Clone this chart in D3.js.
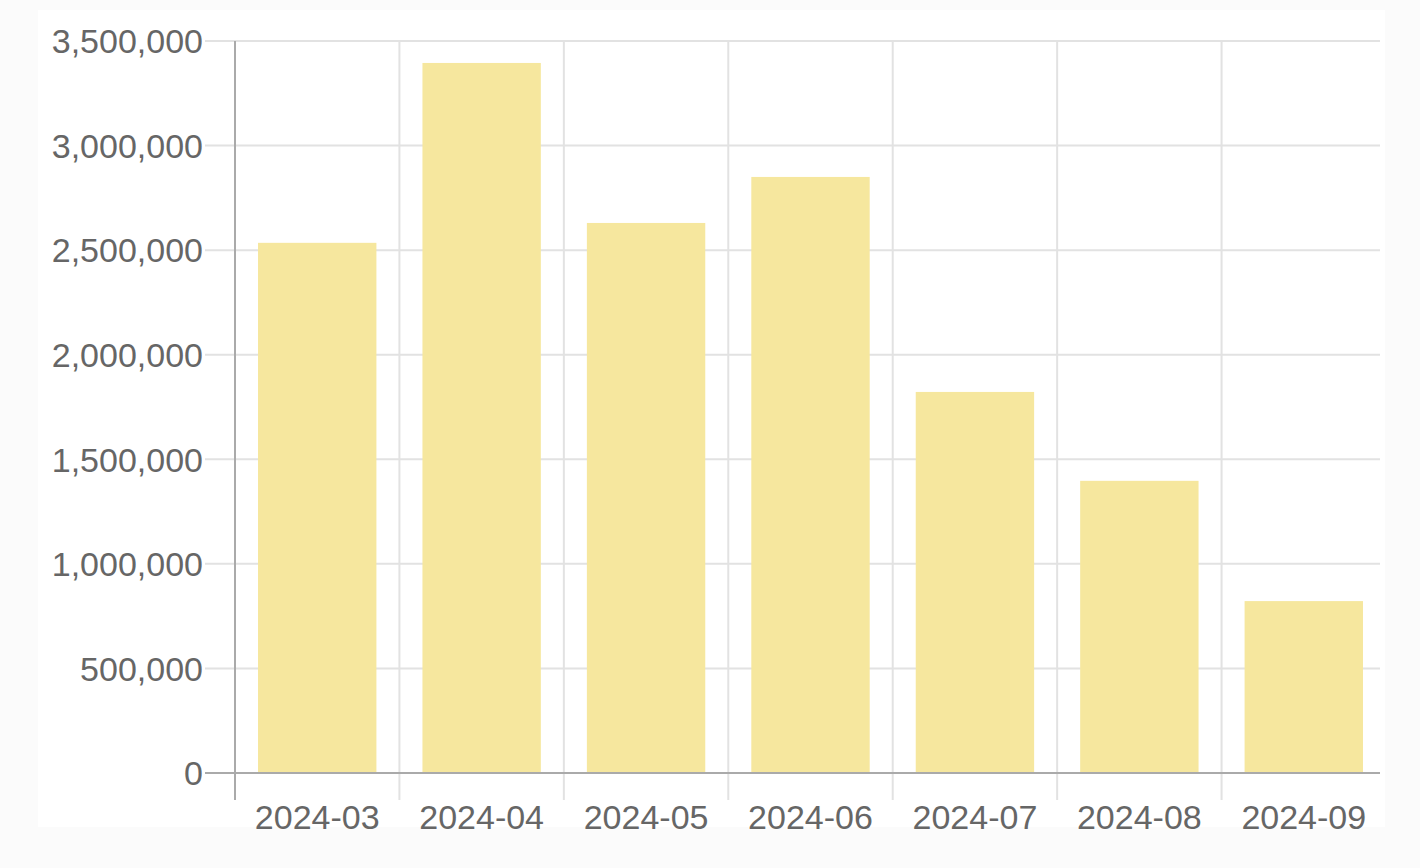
<!DOCTYPE html>
<html><head><meta charset="utf-8">
<script src="https://cdn.jsdelivr.net/npm/d3@7"></script>
<style>html,body{margin:0;padding:0;background:#fbfbfb;}svg{display:block;}</style>
</head><body>
<svg id="chart" width="1420" height="868"></svg>
<script>
const categories = ["2024-03","2024-04","2024-05","2024-06","2024-07","2024-08","2024-09"];
const values = [2535000, 3395000, 2630000, 2850000, 1822000, 1397000, 822000];
const yTicks = [0,500000,1000000,1500000,2000000,2500000,3000000,3500000];

(function(){
const svg = d3.select("#chart");
svg.append("rect").attr("x",0).attr("y",0).attr("width",1420).attr("height",868).attr("fill","#fbfbfb");
svg.append("rect").attr("x",38).attr("y",10).attr("width",1347).attr("height",817).attr("fill","#ffffff");

const pL=235, pR=1386, pT=41, pB=773;
const x = d3.scaleBand().domain(categories).range([pL,pR]).paddingInner(0).paddingOuter(0);
const y = d3.scaleLinear().domain([0,3500000]).range([pB,pT]);
const fmt = d3.format(",");
const font = "'Liberation Sans', Arial, Helvetica, sans-serif";

svg.append("g").selectAll("line").data(yTicks.filter(d=>d!==0)).join("line")
  .attr("x1",205).attr("x2",1380).attr("y1",d=>y(d)).attr("y2",d=>y(d))
  .attr("stroke","#e2e2e2").attr("stroke-width",2);
svg.append("g").selectAll("line").data(categories.slice(1)).join("line")
  .attr("x1",d=>x(d)).attr("x2",d=>x(d)).attr("y1",pT).attr("y2",800)
  .attr("stroke","#e2e2e2").attr("stroke-width",2);

const bw = x.bandwidth()*0.72;
svg.append("g").selectAll("rect").data(categories).join("rect")
  .attr("x",(d)=>x(d)+(x.bandwidth()-bw)/2)
  .attr("width",bw)
  .attr("y",(d,i)=>y(values[i]))
  .attr("height",(d,i)=>y(0)-y(values[i]))
  .attr("fill","#f6e79e");

svg.append("line").attr("x1",pL).attr("x2",pL).attr("y1",pT).attr("y2",800)
  .attr("stroke","#aaaaaa").attr("stroke-width",2);
svg.append("line").attr("x1",205).attr("x2",1380).attr("y1",pB).attr("y2",pB)
  .attr("stroke","#aaaaaa").attr("stroke-width",2);

svg.append("g").selectAll("text").data(yTicks).join("text")
  .attr("x",203).attr("y",d=>y(d)).attr("dy","0.36em")
  .attr("text-anchor","end").attr("fill","#666").attr("font-family",font).attr("font-size",34)
  .text(d=>fmt(d));
svg.append("g").selectAll("text").data(categories).join("text")
  .attr("x",d=>x(d)+x.bandwidth()/2).attr("y",829)
  .attr("text-anchor","middle").attr("fill","#666").attr("font-family",font).attr("font-size",34)
  .text(d=>d);
})();
</script>
</body></html>
